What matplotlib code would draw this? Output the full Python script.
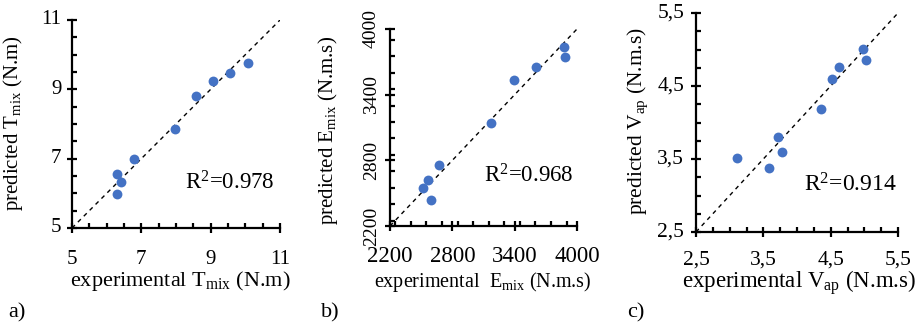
import matplotlib
matplotlib.use("Agg")
import matplotlib.pyplot as plt
from matplotlib.ticker import MultipleLocator, FixedLocator

plt.rcParams['font.family'] = ['Liberation Serif', 'DejaVu Serif']
plt.rcParams['mathtext.fontset'] = 'custom'
plt.rcParams['mathtext.rm'] = 'Liberation Serif'
plt.rcParams['mathtext.it'] = 'Liberation Serif:italic'

# Panel a: torque
t_exp = [6.31, 6.40, 6.31, 6.79, 7.97, 8.57, 9.06, 9.56, 10.07]
t_pred = [6.56, 6.32, 5.99, 6.99, 7.87, 8.82, 9.24, 9.48, 9.76]
t_ticks = [5, 7, 9, 11]
t_ticklabels = ["5", "7", "9", "11"]

# Panel b: energy
e_exp = [2515, 2570, 2595, 2676, 3171, 3396, 3602, 3878, 3888]
e_pred = [2546, 2617, 2439, 2757, 3140, 3532, 3654, 3838, 3740]
e_ticks = [2200, 2800, 3400, 4000]
e_ticklabels = ["2200", "2800", "3400", "4000"]

# Panel c: apparent viscosity
v_exp = [3.11, 3.58, 3.72, 3.77, 4.36, 4.52, 4.62, 4.98, 5.02]
v_pred = [3.52, 3.37, 3.80, 3.59, 4.19, 4.60, 4.76, 5.01, 4.86]
v_ticks = [2.5, 3.5, 4.5, 5.5]
v_ticklabels = ["2,5", "3,5", "4,5", "5,5"]

r2_labels = ["R$^2$=0.978", "R$^2$=0.968", "R$^2$=0.914"]

fig = plt.figure(figsize=(9.16, 3.27), dpi=100)
W, H = 916, 327

def make_ax(l, r, t, b):
    return fig.add_axes([l / W, (H - b) / H, (r - l) / W, (b - t) / H])

color = '#4472C4'

panels = [
    dict(box=(72, 280, 20, 228), x=t_exp, y=t_pred, ticks=t_ticks, tl=t_ticklabels, minor=0.5,
         xl="experimental T$_{\\mathrm{mix}}$ (N.m)", yl="predicted T$_{\\mathrm{mix}}$ (N.m)",
         xlc=(0.519, -0.255), ylc=(-0.284, 0.505), r2=(9.56, 6.30), rot=0, tag="a)", tagx=17,
         fx=15, fy=15, fxl=16, fyl=15, fr=16.5, xpad=12, ypad=4),
    dict(box=(390, 577, 29, 226), x=e_exp, y=e_pred, ticks=e_ticks, tl=e_ticklabels, minor=150,
         xl="experimental  E$_{\\mathrm{mix}}$ (N.m.s)", yl="predicted E$_{\\mathrm{mix}}$ (N.m.s)",
         xlc=(0.497, -0.285), ylc=(-0.33, 0.485), r2=(3538, 2659), rot=90, tag="b)", tagx=330,
         fx=16.5, fy=14, fxl=14.5, fyl=15, fr=16.5, xpad=11, ypad=10),
    dict(box=(696, 898, 13, 232), x=v_exp, y=v_pred, ticks=v_ticks, tl=v_ticklabels, minor=0.25,
         xl="experimental V$_{\\mathrm{ap}}$ (N.m.s)", yl="predicted V$_{\\mathrm{ap}}$ (N.m.s)",
         xlc=(0.51, -0.23), ylc=(-0.29, 0.507), r2=(4.79, 3.15), rot=0, tag="c)", tagx=636,
         fx=15.5, fy=15.5, fxl=16.5, fyl=15.5, fr=17, xpad=10, ypad=5),
]

for i, p in enumerate(panels):
    ax = make_ax(*p['box'])
    lo, hi = p['ticks'][0], p['ticks'][-1]
    ax.plot([lo, hi], [lo, hi], ls=(0, (3, 3)), color='black', lw=1.0, zorder=1)
    ax.scatter(p['x'], p['y'], s=50, color=color, zorder=3, linewidths=0)
    ax.set_xlim(lo, hi)
    ax.set_ylim(lo, hi)
    ax.xaxis.set_major_locator(FixedLocator(p['ticks']))
    ax.yaxis.set_major_locator(FixedLocator(p['ticks']))
    ax.xaxis.set_minor_locator(MultipleLocator(p['minor']))
    ax.yaxis.set_minor_locator(MultipleLocator(p['minor']))
    ax.set_xticklabels(p['tl'], fontsize=p['fx'])
    ax.set_yticklabels(p['tl'], fontsize=p['fy'], rotation=p['rot'],
                       va='center', ha='center' if p['rot'] else 'right')
    for s in ['top', 'right']:
        ax.spines[s].set_visible(False)
    for s in ['left', 'bottom']:
        ax.spines[s].set_linewidth(1.6)
    ax.tick_params(which='major', direction='inout', length=7, width=1.6)
    ax.tick_params(which='minor', direction='in', length=3.5, width=1.6)
    ax.tick_params(axis='x', which='major', pad=p['xpad'])
    ax.tick_params(axis='y', which='major', pad=p['ypad'])
    ax.set_xlabel(p['xl'], fontsize=p['fxl'])
    ax.set_ylabel(p['yl'], fontsize=p['fyl'])
    ax.xaxis.set_label_coords(*p['xlc'])
    ax.yaxis.set_label_coords(*p['ylc'])
    ax.xaxis.label.set_va('center')
    ax.yaxis.label.set_va('center')
    ax.text(p['r2'][0], p['r2'][1], r2_labels[i], fontsize=p['fr'], ha='center', va='center')
    fig.text(p['tagx'] / W, (H - 313) / H, p['tag'], fontsize=16, ha='center', va='center')

fig.savefig("out.png", dpi=100)
